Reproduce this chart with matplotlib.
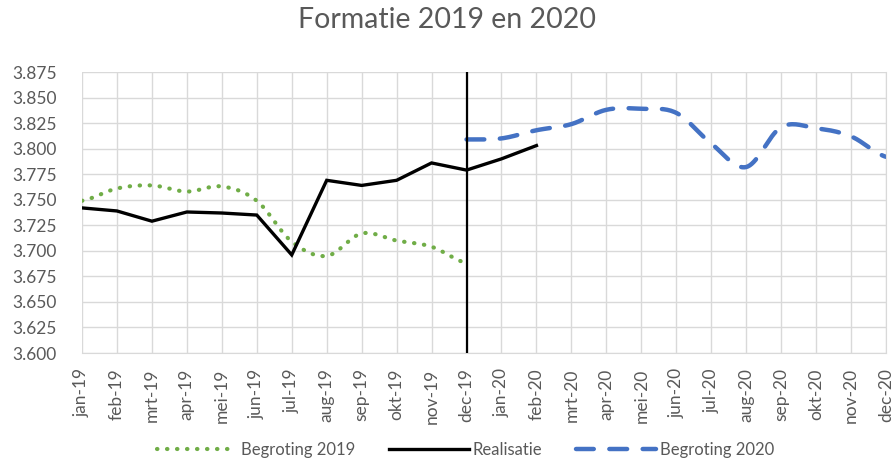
import numpy as np
import matplotlib.pyplot as plt

# months on the x axis
months = ["jan-19", "feb-19", "mrt-19", "apr-19", "mei-19", "jun-19", "jul-19", "aug-19",
          "sep-19", "okt-19", "nov-19", "dec-19", "jan-20", "feb-20", "mrt-20", "apr-20",
          "mei-20", "jun-20", "jul-20", "aug-20", "sep-20", "okt-20", "nov-20", "dec-20"]

begroting_2019 = [3749, 3761, 3764, 3758, 3763, 3749, 3709, 3695, 3717, 3710, 3704, 3688]
realisatie = [3742, 3739, 3729, 3738, 3737, 3735, 3696, 3769, 3764, 3769, 3786, 3779, 3790, 3803]
begroting_2020 = [3809, 3810, 3818, 3824, 3838, 3839, 3835, 3805, 3782, 3821, 3820, 3812, 3792]
begroting_2020_start = 11  # dec-19

yticks = list(range(3600, 3876, 25))


def smooth(x, y, n=20):
    # catmull-rom style smoothing like excel's smoothed lines
    x = np.asarray(x, float)
    y = np.asarray(y, float)
    px = np.concatenate([[2 * x[0] - x[1]], x, [2 * x[-1] - x[-2]]])
    py = np.concatenate([[y[0]], y, [y[-1]]])
    xs, ys = [], []
    t = np.linspace(0, 1, n)
    for i in range(1, len(px) - 2):
        p0, p1, p2, p3 = py[i - 1], py[i], py[i + 1], py[i + 2]
        c1 = p1 + (p2 - p0) / 6
        c2 = p2 - (p3 - p1) / 6
        yy = (1 - t) ** 3 * p1 + 3 * (1 - t) ** 2 * t * c1 + 3 * (1 - t) * t ** 2 * c2 + t ** 3 * p2
        xx = px[i] + t * (px[i + 1] - px[i])
        xs.extend(xx)
        ys.extend(yy)
    return xs, ys


plt.rcParams['font.family'] = ['Lato', 'DejaVu Sans']
grey = "#595959"

fig = plt.figure(figsize=(8.95, 4.59), dpi=100)
ax = fig.add_axes([82 / 895, 1 - 353 / 459, (886 - 82) / 895, (353 - 72) / 459])

x19 = list(range(len(begroting_2019)))
xs, ys = smooth(x19, begroting_2019)
ax.plot(xs, ys, color="#70ad47", lw=3, linestyle=(0, (0.1, 2.3)), dash_capstyle="round",
        label="Begroting 2019")

ax.plot(range(len(realisatie)), realisatie, color="black", lw=2.4, label="Realisatie",
        solid_joinstyle="miter")

x20 = list(range(begroting_2020_start, begroting_2020_start + len(begroting_2020)))
xs, ys = smooth(x20, begroting_2020)
ax.plot(xs, ys, color="#4472c4", lw=3.2, linestyle=(0, (4, 3.5)), dash_capstyle="round",
        label="Begroting 2020")

ax.axvline(begroting_2020_start, color="black", lw=1.6, zorder=5)

ax.set_xlim(0, len(months) - 1)
ax.set_ylim(yticks[0], yticks[-1])
ax.set_xticks(range(len(months)))
ax.set_xticklabels(months, rotation=90, fontsize=12.5, color=grey)
ax.set_yticks(yticks)
ax.set_yticklabels([f"{v:,.0f}".replace(",", ".") for v in yticks], fontsize=12.5, color=grey)
ax.grid(True, color="#d9d9d9", lw=1)
ax.set_axisbelow(True)
for s in ["top", "left"]:
    ax.spines[s].set_visible(False)
ax.spines["right"].set_color("#d9d9d9")
ax.spines["bottom"].set_color("#d9d9d9")
ax.tick_params(axis="y", length=0, pad=18)
ax.tick_params(axis="x", length=0, pad=11)

fig.suptitle("Formatie 2019 en 2020", fontsize=20.5, color=grey, y=0.985)
fig.legend(loc="lower center", ncol=3, frameon=False, fontsize=12, bbox_to_anchor=(0.52, -0.03),
           handlelength=4.8, handletextpad=0.25, columnspacing=2.0, labelcolor=grey)

fig.savefig("out.png", dpi=100)
